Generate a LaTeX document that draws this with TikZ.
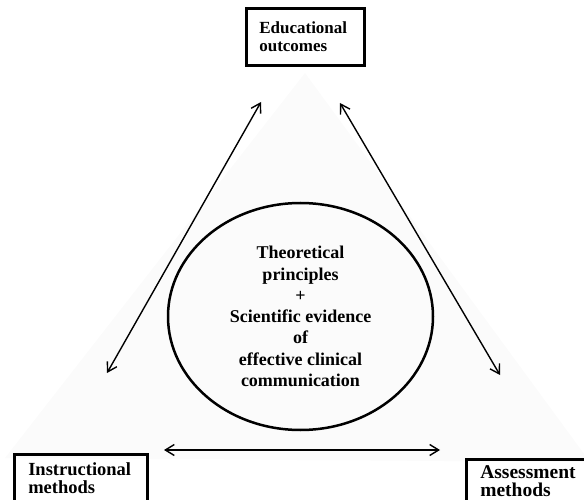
\documentclass[tikz,border=0pt]{standalone}
\usepackage{fontspec}
\setmainfont{Liberation Serif}
\usetikzlibrary{arrows.meta,shapes.geometric}
\begin{document}
\begin{tikzpicture}[x=1pt,y=-1pt,
  boxnode/.style={draw, line width=2.6pt, rectangle, anchor=north west, align=left,
    inner xsep=13pt, inner ysep=0pt},
  centre/.style={draw, line width=2.5pt, ellipse, inner sep=0pt, align=center,
    minimum width=265pt, minimum height=227pt,
    font=\fontsize{18}{21.3}\selectfont\bfseries},
  link/.style={line width=1.4pt, {Straight Barb[length=9pt,width=11pt]}-{Straight Barb[length=9pt,width=11pt]}}
]
\useasboundingbox (0,0) rectangle (584,500);
\clip (0,0) rectangle (584,500);
\fill[black!1.5] (305,73) -- (5,458) -- (590,462) -- cycle;
\node[boxnode, minimum width=118pt, minimum height=57pt, text width=92pt,
  font=\fontsize{17}{18.5}\selectfont\bfseries] (edu) at (245,7) {Educational\\outcomes};
\node[boxnode, minimum width=133pt, minimum height=48pt, inner xsep=14pt, text width=105pt,
  font=\fontsize{18.5}{18}\selectfont\bfseries] (ins) at (13,453) {Instructional\\methods};
\node[boxnode, minimum width=119pt, minimum height=44pt, inner xsep=14pt, text width=100pt,
  font=\fontsize{19.5}{18}\selectfont\bfseries] (ass) at (465,458) {Assessment\\methods};
\node[centre] (core) at (300.5,316.5) {Theoretical\\principles\\+\\Scientific evidence\\of\\effective clinical\\communication};
\coordinate (a1) at (261,102);
\coordinate (a2) at (107,373);
\coordinate (b1) at (340,103);
\coordinate (b2) at (500,375);
\coordinate (c1) at (164,450);
\coordinate (c2) at (440,450);
\draw[link] (a1) -- (a2);
\draw[link] (b1) -- (b2);
\draw[link] (c1) -- (c2);
\end{tikzpicture}
\end{document}
